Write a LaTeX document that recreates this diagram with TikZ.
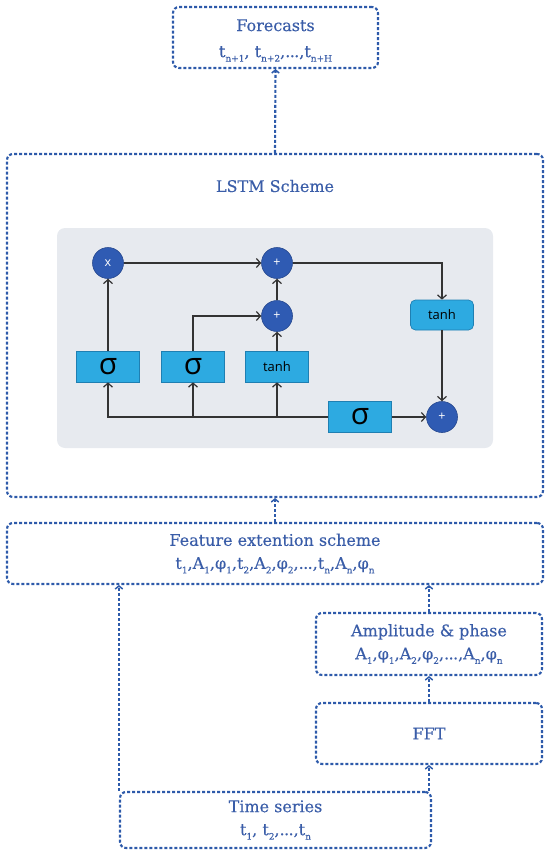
\documentclass[tikz,border=0pt]{standalone}
\usepackage{fontspec}
\setmainfont{DejaVu Serif}[FakeBold=0.35]
\newfontfamily\gatefont{Open Sans}
\usetikzlibrary{arrows.meta}
\definecolor{dotblue}{HTML}{2D5AAA}
\definecolor{txtblue}{HTML}{3A5DA8}
\definecolor{circblue}{HTML}{2F5BB3}
\definecolor{circedge}{HTML}{27498F}
\definecolor{boxcyan}{HTML}{2DAAE1}
\definecolor{boxedge}{HTML}{1F7FB2}
\definecolor{panelgray}{HTML}{E7EAEF}
\definecolor{flowgray}{HTML}{333333}
\newcommand{\sbs}[1]{\raisebox{-0.55ex}{\fontsize{9}{9}\selectfont #1}}
\newcommand{\tdots}{.\kern-0.6pt.\kern-0.6pt.}
\tikzset{
  dotline/.style={draw=dotblue, line width=2.1pt, dash pattern=on 3pt off 2pt},
  dotbox/.style={dotline, rounded corners=6pt, text=txtblue, align=center, inner sep=0pt,
    font=\fontsize{16}{23}\selectfont},
  txt/.style={text=txtblue, align=center, inner sep=0pt, font=\fontsize{16}{26}\selectfont},
  dotarrow/.style={dotline, -{Straight Barb[length=3pt,width=7.5pt,line width=1.5pt]}},
  gatebox/.style={fill=boxcyan, draw=boxedge, line width=0.7pt, minimum width=63pt,
    minimum height=31pt, inner sep=0pt, text=black},
  opcirc/.style={circle, fill=circblue, draw=circedge, line width=0.6pt, minimum size=31pt,
    inner sep=0pt, text=white, font=\gatefont\fontsize{12.5}{12.5}\selectfont},
  flow/.style={draw=flowgray, line width=1.2pt, -{Straight Barb[length=4pt,width=9pt]}},
  sig/.style={font=\gatefont\fontsize{30}{30}\selectfont},
  tanhf/.style={font=\gatefont\fontsize{13}{13}\selectfont},
}
\begin{document}
\begin{tikzpicture}[x=1pt,y=-1pt]
\useasboundingbox (0,0) rectangle (550,856);
% outer boxes
\node[dotbox, minimum width=205pt, minimum height=61pt] (fore) at (275.5,37.5) {};
\node[txt] (foretext) at (275.5,40.5)
  {Forecasts\\t\sbs{n+1}, t\sbs{n+2},\tdots,t\sbs{n+H}};
\node[dotbox, minimum width=536pt, minimum height=343pt] (lstm) at (275,325.5) {};
\node[txt] (lstmtitle) at (275,186) {LSTM Scheme};
\node[dotbox, minimum width=536pt, minimum height=61pt] (feat) at (275,553.5)
  {Feature extention scheme\\t\sbs{1},A\sbs{1},φ\sbs{1},t\sbs{2},A\sbs{2},φ\sbs{2},\tdots,t\sbs{n},A\sbs{n},φ\sbs{n}};
\node[dotbox, minimum width=226pt, minimum height=62pt] (amp) at (429,644)
  {Amplitude \& phase\\A\sbs{1},φ\sbs{1},A\sbs{2},φ\sbs{2},\tdots,A\sbs{n},φ\sbs{n}};
\node[dotbox, minimum width=226pt, minimum height=61pt] (fft) at (429,733.5) {FFT};
\node[dotbox, minimum width=311pt, minimum height=56pt] (ts) at (275.5,820)
  {Time series\\t\sbs{1}, t\sbs{2},\tdots,t\sbs{n}};
% panel
\node[fill=panelgray, rounded corners=8pt, minimum width=436pt, minimum height=220pt, inner sep=0pt] (panel) at (275,338) {};
% gates
\node[opcirc] (mul) at (108,263) {x};
\node[opcirc] (addtop) at (277,263) {+};
\node[opcirc] (addmid) at (277,316) {+};
\node[opcirc] (addout) at (442,417) {+};
\node[gatebox, rounded corners=5pt, minimum height=30pt, tanhf] (tanhR) at (442,315) {tanh};
\node[gatebox, sig] (s1) at (108,366.5) {σ};
\node[gatebox, sig] (s2) at (193,366.5) {σ};
\node[gatebox, tanhf] (th1) at (277,366.5) {tanh};
\node[gatebox, sig] (s3) at (360,417) {σ};
% inner connectors
\draw[flow] (s1.north) -- (mul.south);
\draw[flow] (mul.east) -- (addtop.west);
\draw[flow] (addmid.north) -- (addtop.south);
\draw[flow] (th1.north) -- (addmid.south);
\draw[flow] (s2.north) |- (addmid.west);
\draw[flow] (addtop.east) -| (tanhR.north);
\draw[flow] (tanhR.south) -- (addout.north);
\draw[flow] (s3.east) -- (addout.west);
\draw[flow] (s3.west) -| (s1.south);
\draw[flow] (s2.south |- s3.west) -- (s2.south);
\draw[flow] (th1.south |- s3.west) -- (th1.south);
% outer connectors
\draw[dotarrow] (lstm.north) -- (fore.south);
\draw[dotarrow] (feat.north) -- (lstm.south);
\draw[dotarrow] (amp.north) -- (amp.north |- feat.south);
\draw[dotarrow] (fft.north) -- (amp.south);
\draw[dotarrow] (fft.south |- ts.north) -- (fft.south);
\draw[dotarrow] (ts.north west) -- (ts.north west |- feat.south);
\end{tikzpicture}
\end{document}
